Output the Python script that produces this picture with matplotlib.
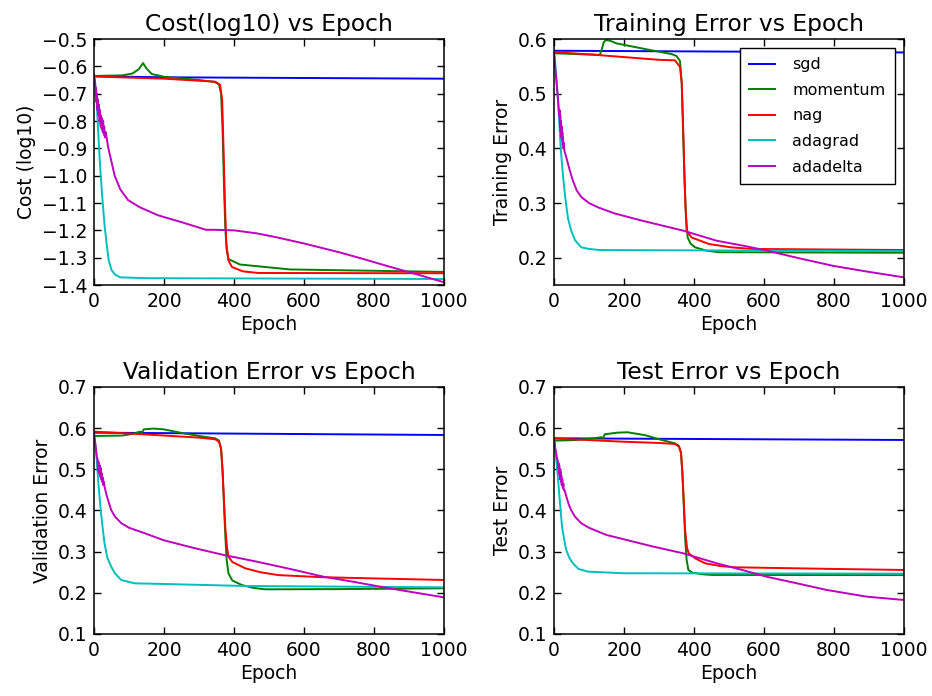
import matplotlib
matplotlib.use("Agg")
import matplotlib.pyplot as plt

# -----------------------
# DATA  (epoch, value)
# -----------------------
labels = ["sgd", "momentum", "nag", "adagrad", "adadelta"]
colors = ["b", "g", "r", "c", "m"]

# Cost (log10)
cost_sgd = [(0, -0.636), (200, -0.640), (1000, -0.645)]
cost_momentum = [(0, -0.635), (80, -0.633), (110, -0.626), (128, -0.610), (140, -0.588),
                 (150, -0.608), (165, -0.628), (200, -0.638), (300, -0.650), (345, -0.657),
                 (357, -0.666), (363, -0.70), (367, -0.82), (371, -1.02), (375, -1.19),
                 (379, -1.27), (384, -1.305), (417, -1.325), (560, -1.343), (900, -1.350),
                 (1000, -1.352)]
cost_nag = [(0, -0.637), (200, -0.645), (346, -0.656), (360, -0.667), (366, -0.72),
            (370, -0.90), (374, -1.10), (378, -1.25), (384, -1.31), (394, -1.334),
            (425, -1.350), (470, -1.356), (1000, -1.357)]
cost_adagrad = [(0, -0.63), (3, -0.66), (7, -0.72), (12, -0.84), (16, -0.94), (23, -1.07),
                (30, -1.18), (36, -1.25), (42, -1.31), (50, -1.345), (60, -1.362),
                (75, -1.372), (150, -1.375), (1000, -1.378)]
cost_adadelta = [(0, -0.63), (3, -0.66), (5, -0.70), (6, -0.68), (7, -0.73), (8, -0.70),
                 (10, -0.76), (11, -0.72), (13, -0.78), (14, -0.74), (16, -0.80), (17, -0.76),
                 (19, -0.82), (20, -0.78), (22, -0.83), (23, -0.79), (25, -0.84), (26, -0.80),
                 (28, -0.85), (29, -0.82), (31, -0.86), (33, -0.84), (36, -0.86), (40, -0.894),
                 (50, -0.95), (59, -1.0), (75, -1.05), (97, -1.089), (130, -1.115),
                 (183, -1.145), (250, -1.17), (320, -1.198), (345, -1.198), (400, -1.200),
                 (465, -1.211), (520, -1.225), (600, -1.248), (700, -1.28), (770, -1.305),
                 (850, -1.335), (920, -1.36), (1000, -1.39)]

# Training error
train_sgd = [(0, 0.5786), (1000, 0.5755)]
train_momentum = [(0, 0.574), (131, 0.571), (136, 0.58), (142, 0.594), (148, 0.598),
                  (160, 0.597), (179, 0.592), (274, 0.580), (336, 0.5725), (350, 0.569),
                  (360, 0.56), (365, 0.52), (369, 0.43), (373, 0.34), (377, 0.28),
                  (382, 0.237), (390, 0.226), (403, 0.219), (435, 0.213), (470, 0.210),
                  (1000, 0.209)]
train_nag = [(0, 0.576), (100, 0.572), (200, 0.567), (300, 0.562), (346, 0.561),
             (360, 0.549), (365, 0.52), (369, 0.44), (373, 0.35), (376, 0.29),
             (379, 0.2495), (393, 0.237), (443, 0.225), (505, 0.219), (565, 0.216),
             (1000, 0.214)]
train_adagrad = [(0, 0.578), (4, 0.55), (8, 0.52), (11, 0.494), (15, 0.45), (19, 0.402),
                 (25, 0.355), (32, 0.311), (40, 0.272), (49, 0.25), (60, 0.232),
                 (78, 0.219), (100, 0.216), (130, 0.214), (1000, 0.212)]
train_adadelta = [(0, 0.578), (4, 0.545), (8, 0.515), (12, 0.485), (15, 0.46), (16, 0.47),
                  (17, 0.44), (18, 0.46), (19, 0.43), (20, 0.45), (21, 0.42), (22, 0.44),
                  (23, 0.415), (24, 0.43), (25, 0.405), (26, 0.42), (27, 0.40), (28, 0.41),
                  (30, 0.395), (35, 0.384), (45, 0.36), (54, 0.341), (65, 0.323),
                  (78, 0.311), (100, 0.30), (126, 0.292), (173, 0.281), (250, 0.268),
                  (369, 0.2495), (465, 0.231), (540, 0.222), (608, 0.213), (700, 0.199),
                  (798, 0.185), (900, 0.174), (1000, 0.164)]

# Validation error
val_sgd = [(0, 0.589), (1000, 0.5834)]
val_momentum = [(0, 0.581), (80, 0.582), (110, 0.586), (131, 0.5915), (138, 0.590),
                (142, 0.597), (170, 0.599), (200, 0.597), (255, 0.5875), (300, 0.581),
                (346, 0.5753), (357, 0.57), (363, 0.55), (367, 0.50), (371, 0.42),
                (375, 0.34), (379, 0.28), (384, 0.2475), (395, 0.23), (422, 0.219),
                (455, 0.212), (489, 0.2085), (700, 0.209), (1000, 0.211)]
val_nag = [(0, 0.5915), (100, 0.587), (200, 0.582), (300, 0.577), (346, 0.573),
           (357, 0.567), (363, 0.55), (367, 0.50), (371, 0.43), (375, 0.36), (380, 0.31),
           (384, 0.288), (395, 0.275), (432, 0.2596), (475, 0.25), (527, 0.243),
           (650, 0.238), (800, 0.235), (1000, 0.2312)]
val_adagrad = [(0, 0.5875), (3, 0.565), (7, 0.531), (12, 0.47), (19, 0.401), (25, 0.355),
               (30, 0.32), (38, 0.285), (49, 0.2635), (60, 0.247), (78, 0.231),
               (116, 0.223), (200, 0.2215), (430, 0.2166), (1000, 0.2134)]
val_adadelta = [(0, 0.5875), (4, 0.56), (8, 0.53), (10, 0.525), (11, 0.50), (12, 0.52),
                (13, 0.495), (14, 0.515), (15, 0.49), (16, 0.51), (17, 0.485), (18, 0.505),
                (19, 0.48), (20, 0.50), (21, 0.475), (22, 0.49), (23, 0.47), (25, 0.48),
                (26, 0.462), (28, 0.47), (30, 0.458), (35, 0.44), (42, 0.42), (49, 0.401),
                (60, 0.385), (78, 0.369), (100, 0.358), (145, 0.3447), (198, 0.328),
                (280, 0.31), (370, 0.292), (465, 0.2757), (560, 0.258), (655, 0.2393),
                (740, 0.227), (817, 0.215), (900, 0.203), (1000, 0.189)]

# Test error
test_sgd = [(0, 0.5753), (1000, 0.5713)]
test_momentum = [(0, 0.5696), (60, 0.571), (120, 0.576), (135, 0.578), (140, 0.575),
                 (145, 0.585), (180, 0.589), (210, 0.590), (260, 0.583), (300, 0.573),
                 (346, 0.563), (357, 0.557), (363, 0.54), (367, 0.49), (371, 0.41),
                 (375, 0.33), (379, 0.28), (384, 0.2555), (395, 0.249), (425, 0.245),
                 (451, 0.2434), (1000, 0.243)]
test_nag = [(0, 0.575), (100, 0.571), (200, 0.567), (300, 0.564), (346, 0.5616),
            (357, 0.555), (363, 0.54), (367, 0.49), (371, 0.42), (375, 0.35), (380, 0.31),
            (385, 0.296), (405, 0.283), (432, 0.2717), (475, 0.265), (517, 0.262),
            (800, 0.258), (1000, 0.2555)]
test_adagrad = [(0, 0.5753), (4, 0.545), (8, 0.51), (11, 0.482), (17, 0.42), (23, 0.3607),
                (29, 0.33), (35, 0.304), (44, 0.285), (54, 0.2717), (70, 0.258),
                (97, 0.2514), (200, 0.2475), (1000, 0.2466)]
test_adadelta = [(0, 0.5753), (4, 0.55), (8, 0.53), (11, 0.52), (12, 0.505), (13, 0.515),
                 (14, 0.49), (15, 0.51), (16, 0.485), (17, 0.5), (18, 0.475), (19, 0.495),
                 (20, 0.47), (21, 0.485), (22, 0.462), (24, 0.475), (25, 0.455), (27, 0.465),
                 (28, 0.45), (30, 0.45), (35, 0.435), (42, 0.415), (49, 0.401), (60, 0.385),
                 (78, 0.369), (100, 0.358), (150, 0.3405), (200, 0.33), (280, 0.313),
                 (369, 0.296), (465, 0.2717), (540, 0.255), (608, 0.239), (700, 0.222),
                 (779, 0.207), (893, 0.1907), (1000, 0.1826)]

panels = [
    ("Cost(log10) vs Epoch", "Cost (log10)", (-1.4, -0.5), [-1.4 + 0.1 * i for i in range(10)],
     [cost_sgd, cost_momentum, cost_nag, cost_adagrad, cost_adadelta]),
    ("Training Error vs Epoch", "Training Error", (0.15, 0.6), [0.2, 0.3, 0.4, 0.5, 0.6],
     [train_sgd, train_momentum, train_nag, train_adagrad, train_adadelta]),
    ("Validation Error vs Epoch", "Validation Error", (0.1, 0.7), [0.1, 0.2, 0.3, 0.4, 0.5, 0.6, 0.7],
     [val_sgd, val_momentum, val_nag, val_adagrad, val_adadelta]),
    ("Test Error vs Epoch", "Test Error", (0.1, 0.7), [0.1, 0.2, 0.3, 0.4, 0.5, 0.6, 0.7],
     [test_sgd, test_momentum, test_nag, test_adagrad, test_adadelta]),
]

# -----------------------
# PLOT
# -----------------------
plt.rcParams["font.family"] = "DejaVu Sans"
plt.rcParams["axes.unicode_minus"] = True

fig = plt.figure(figsize=(9.32, 6.96), dpi=100, facecolor="white")
positions = [
    [0.1009, 0.5905, 0.3755, 0.3534],
    [0.5944, 0.5905, 0.3755, 0.3534],
    [0.1009, 0.0891, 0.3755, 0.3549],
    [0.5944, 0.0891, 0.3755, 0.3549],
]

for k, (title, ylabel, ylim, yticks, series) in enumerate(panels):
    ax = fig.add_axes(positions[k])
    for pts, lab, col in zip(series, labels, colors):
        xs = [p[0] for p in pts]
        ys = [p[1] for p in pts]
        ax.plot(xs, ys, color=col, lw=1.4, label=lab)
    ax.set_xlim(0, 1000)
    ax.set_ylim(*ylim)
    ax.set_xticks([0, 200, 400, 600, 800, 1000])
    ax.set_yticks(yticks)
    ax.tick_params(direction="in", top=True, right=True, length=5, width=1,
                   labelsize=13.5, pad=5)
    for sp in ax.spines.values():
        sp.set_linewidth(1.1)
    ax.set_title(title, fontsize=16.8, pad=6)
    ax.set_xlabel("Epoch", fontsize=13.5, labelpad=3)
    ax.set_ylabel(ylabel, fontsize=13.5, labelpad=4)
    if k == 1:
        leg = ax.legend(loc="upper right", fontsize=11.5, fancybox=False,
                        handlelength=1.6, handletextpad=1.1, labelspacing=0.66,
                        borderpad=0.6, borderaxespad=0.55, framealpha=1)
        leg.get_frame().set_edgecolor("black")
        leg.get_frame().set_linewidth(1.0)

fig.savefig("out.png", dpi=100, facecolor="white")
